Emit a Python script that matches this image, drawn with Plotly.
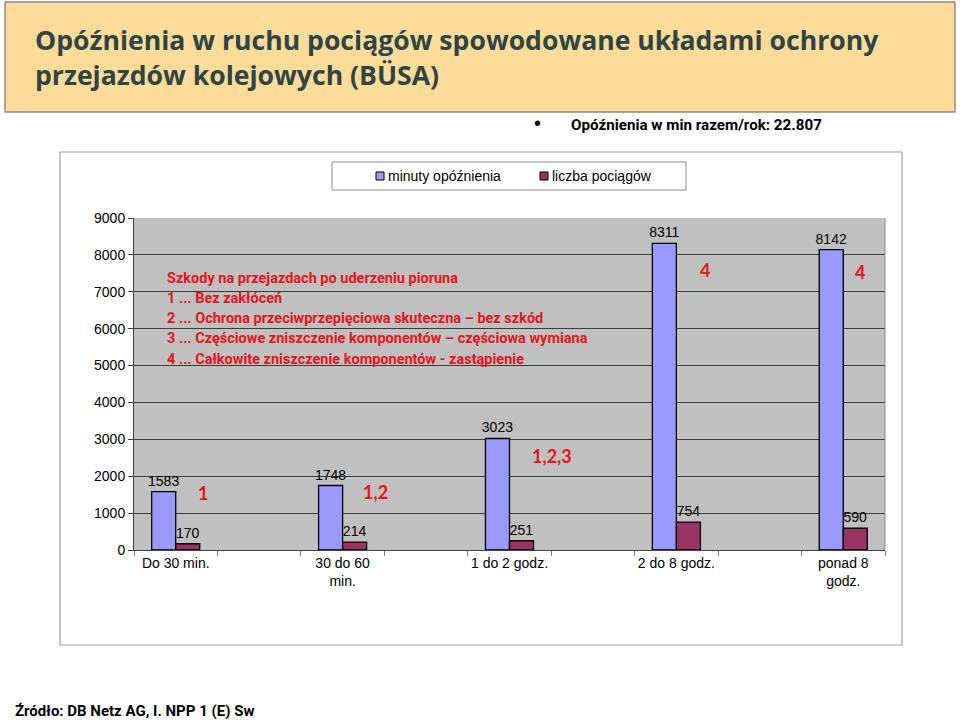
import plotly.graph_objects as go

categories = ["Do 30 min.", "30 do 60<br>min.", "1 do 2 godz.", "2 do 8 godz.", "ponad 8<br>godz."]
minuty = [1583, 1748, 3023, 8311, 8142]
pociagi = [170, 214, 251, 754, 590]
series_names = ["minuty opóźnienia", "liczba pociągów"]
series_colors = ["#9999FF", "#993366"]
damage_codes = ["1", "1,2", "1,2,3", "4", "4"]
y_ticks = [0, 1000, 2000, 3000, 4000, 5000, 6000, 7000, 8000, 9000]

title_lines = ["Opóźnienia w ruchu pociągów spowodowane układami ochrony",
               "przejazdów kolejowych (BÜSA)"]
bullet_text = "Opóźnienia w min razem/rok: 22.807"
note_lines = [
    "Szkody na przejazdach po uderzeniu pioruna",
    "1 ... Bez zakłóceń",
    "2 ... Ochrona przeciwprzepięciowa skuteczna – bez szkód",
    "3 ... Częściowe zniszczenie komponentów – częściowa wymiana",
    "4 ... Całkowite zniszczenie komponentów - zastąpienie",
]
source_text = "Źródło: DB Netz AG, I. NPP 1 (E) Sw"

# layout geometry (pixels)
W, H = 960, 720
PL, PR, PT, PB = 134, 885, 218, 550


def px(x):
    return (x - PL) / (PR - PL)


def py(y):
    return (PB - y) / (PB - PT)


NARROW = "Roboto"
ARIAL = "Arial, Liberation Sans"

xpos = [2 * i for i in range(len(categories))]
bw = 0.288

fig = go.Figure()
for vals, name, col, off in [(minuty, series_names[0], series_colors[0], -bw),
                             (pociagi, series_names[1], series_colors[1], 0)]:
    fig.add_trace(go.Bar(
        x=xpos, y=vals, name=name, showlegend=False,
        width=bw, offset=off,
        marker=dict(color=col, line=dict(color="#000000", width=1.3)),
        text=vals, textposition="outside", constraintext="none", cliponaxis=False,
        textfont=dict(family=ARIAL, size=14, color="#000000"),
    ))

shapes = [
    # title box
    dict(type="rect", xref="paper", yref="paper", x0=px(5), x1=px(955), y0=py(112), y1=py(2),
         fillcolor="#FDDB98", line=dict(color="#8C8C8C", width=1.5), layer="below"),
    # chart frame
    dict(type="rect", xref="paper", yref="paper", x0=px(60), x1=px(902), y0=py(645), y1=py(152),
         fillcolor="rgba(0,0,0,0)", line=dict(color="#A0A0A0", width=1.2), layer="below"),
    # plot area right border
    dict(type="line", xref="paper", yref="paper", x0=1, x1=1, y0=0, y1=1,
         line=dict(color="#8C8C8C", width=1)),
    # legend box
    dict(type="rect", xref="paper", yref="paper", x0=px(332), x1=px(686), y0=py(190), y1=py(162),
         fillcolor="#FFFFFF", line=dict(color="#8C8C8C", width=1)),
]

annotations = []
for i, line in enumerate(title_lines):
    annotations.append(dict(xref="paper", yref="paper", x=px(33), y=py(40 + 35 * i),
                            xanchor="left", yanchor="middle", text=line, showarrow=False,
                            font=dict(family="Open Sans", size=26.6, color="#2F4444", weight="bold")))

annotations += [
    dict(xref="paper", yref="paper", x=px(537), y=py(123), xanchor="center", yanchor="middle",
         text="•", showarrow=False,
         font=dict(family=ARIAL, size=20, color="#000000")),
    dict(xref="paper", yref="paper", x=px(569), y=py(125), xanchor="left", yanchor="middle",
         text=bullet_text, showarrow=False,
         font=dict(family=NARROW, size=15.2, color="#000000", weight="bold")),
    dict(xref="paper", yref="paper", x=px(13), y=py(711), xanchor="left", yanchor="middle",
         text=source_text, showarrow=False,
         font=dict(family=NARROW, size=15, color="#000000", weight="bold")),
]
for i, line in enumerate(note_lines):
    annotations.append(dict(xref="paper", yref="paper", x=px(165), y=py(278 + 20.3 * i),
                            xanchor="left", yanchor="middle", text=line, showarrow=False,
                            font=dict(family=NARROW, size=14.5, color="#E8141B", weight="bold")))

# manual legend
leg_x = [376, 540]
for name, col, lx in zip(series_names, series_colors, leg_x):
    shapes.append(dict(type="rect", xref="paper", yref="paper", x0=px(lx), x1=px(lx + 8),
                       y0=py(180), y1=py(172), fillcolor=col, line=dict(color="#000000", width=1)))
    annotations.append(dict(xref="paper", yref="paper", x=px(lx + 10), y=py(176),
                            xanchor="left", yanchor="middle", text=name, showarrow=False,
                            font=dict(family=ARIAL, size=14, color="#000000")))

code_pos = [(0.33, 1550), (2.40, 1570), (4.51, 2548), (6.34, 7590), (8.20, 7536)]
for code, (cx, cy) in zip(damage_codes, code_pos):
    annotations.append(dict(x=cx, y=cy, xref="x", yref="y", text=code, showarrow=False,
                            font=dict(family="Lato, Open Sans", size=18, color="#E8141B", weight="bold")))

fig.update_layout(
    width=W, height=H,
    margin=dict(l=PL, r=W - PR, t=PT, b=H - PB),
    paper_bgcolor="#FFFFFF", plot_bgcolor="#C0C0C0",
    barmode="overlay",
    showlegend=False,
    xaxis=dict(range=[-0.5, 8.5], tickvals=xpos, ticktext=categories, ticks="",
               showgrid=False, zeroline=False, showline=True, linecolor="#404040", linewidth=1,
               tickfont=dict(family=ARIAL, size=14, color="#000000"),
               minor=dict(tick0=-0.5, dtick=1, ticks="outside", ticklen=5, tickcolor="#808080", showgrid=False)),
    yaxis=dict(range=[0, 9000], tickvals=y_ticks, ticks="outside", ticklen=5, tickcolor="#404040",
               showgrid=True, gridcolor="#3C3C3C", gridwidth=1, zeroline=False,
               showline=True, linecolor="#404040", linewidth=1,
               tickfont=dict(family=ARIAL, size=14, color="#000000")),
    shapes=shapes,
    annotations=annotations,
)

fig.write_html("out.html")
